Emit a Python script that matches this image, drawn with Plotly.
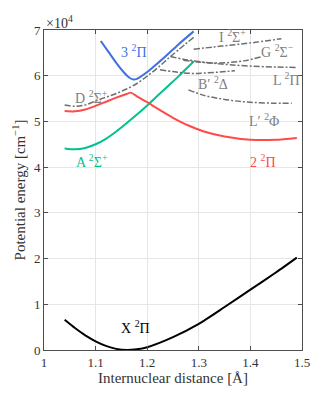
import plotly.graph_objects as go

# potential energy curves, energies in units of 1e4 cm^-1
x_X = [1.04, 1.06, 1.08, 1.10, 1.12, 1.14, 1.16, 1.18, 1.20, 1.25, 1.30, 1.35, 1.40, 1.45, 1.49]
y_X = [0.66, 0.48, 0.32, 0.19, 0.09, 0.025, 0.0, 0.015, 0.06, 0.28, 0.57, 0.94, 1.32, 1.70, 2.02]

x_A = [1.04, 1.06, 1.08, 1.10, 1.12, 1.14, 1.16, 1.18, 1.20, 1.22, 1.24, 1.26, 1.29]
y_A = [4.41, 4.39, 4.42, 4.50, 4.62, 4.78, 4.96, 5.15, 5.35, 5.56, 5.77, 5.98, 6.31]

x_2Pi = [1.04, 1.06, 1.08, 1.10, 1.12, 1.14, 1.16, 1.168, 1.18, 1.20, 1.22, 1.25, 1.28, 1.31, 1.35, 1.40, 1.45, 1.49]
y_2Pi = [5.23, 5.22, 5.26, 5.34, 5.43, 5.52, 5.60, 5.63, 5.55, 5.42, 5.28, 5.08, 4.91, 4.78, 4.67, 4.60, 4.60, 4.64]

x_3Pi = [1.11, 1.125, 1.14, 1.155, 1.165, 1.172, 1.18, 1.20, 1.22, 1.24, 1.26, 1.29]
y_3Pi = [6.76, 6.52, 6.28, 6.07, 5.96, 5.92, 5.93, 6.08, 6.27, 6.47, 6.68, 6.97]

x_D = [1.04, 1.06, 1.08, 1.10, 1.12, 1.14, 1.16, 1.18, 1.20, 1.22, 1.24, 1.26, 1.29]
y_D = [5.36, 5.33, 5.36, 5.45, 5.53, 5.61, 5.71, 5.83, 5.99, 6.17, 6.37, 6.56, 6.84]

x_I = [1.29, 1.33, 1.37, 1.41, 1.46]
y_I = [6.58, 6.63, 6.68, 6.73, 6.81]

x_G = [1.27, 1.30, 1.33, 1.36, 1.39, 1.42]
y_G = [6.34, 6.30, 6.28, 6.29, 6.33, 6.41]

x_L = [1.245, 1.27, 1.30, 1.33, 1.36, 1.40, 1.45, 1.49]
y_L = [6.42, 6.36, 6.31, 6.27, 6.24, 6.21, 6.19, 6.18]

x_B = [1.225, 1.25, 1.27, 1.29, 1.31, 1.34, 1.37]
y_B = [6.13, 6.09, 6.06, 6.05, 6.06, 6.08, 6.11]

x_Lp = [1.28, 1.31, 1.34, 1.37, 1.40, 1.44, 1.48]
y_Lp = [5.69, 5.57, 5.50, 5.45, 5.42, 5.40, 5.40]

x_ticks = [1, 1.1, 1.2, 1.3, 1.4, 1.5]
x_ticktext = ["1", "1.1", "1.2", "1.3", "1.4", "1.5"]
y_ticks = [0, 1, 2, 3, 4, 5, 6, 7]
y_ticktext = ["0", "1", "2", "3", "4", "5", "6", "7"]

BLUE = "#3f6fe0"
RED = "#ff4a4a"
GREEN = "#00c38c"
GRAY = "#6e6e6e"
LABEL_GRAY = "#808080"
FONT = "Liberation Serif, DejaVu Serif, serif"

fig = go.Figure()

solid = [(x_X, y_X, "black"), (x_A, y_A, GREEN), (x_2Pi, y_2Pi, RED), (x_3Pi, y_3Pi, BLUE)]
for xs, ys, c in solid:
    fig.add_trace(go.Scatter(x=xs, y=ys, mode="lines",
                             line=dict(color=c, width=2, shape="spline", smoothing=0.6),
                             showlegend=False, hoverinfo="skip"))

dashed = [(x_D, y_D), (x_I, y_I), (x_G, y_G), (x_L, y_L), (x_B, y_B), (x_Lp, y_Lp)]
for xs, ys in dashed:
    fig.add_trace(go.Scatter(x=xs, y=ys, mode="lines",
                             line=dict(color=GRAY, width=1.5, dash="6px,2px,2px,2px", shape="spline"),
                             showlegend=False, hoverinfo="skip"))

labels = [
    (1.178, 0.51, "X <sup>2</sup>Π", "black"),
    (1.093, 4.13, "A <sup>2</sup>Σ<sup>+</sup>", GREEN),
    (1.093, 5.54, "D <sup>2</sup>Σ<sup>+</sup>", LABEL_GRAY),
    (1.174, 6.54, "3 <sup>2</sup>Π", BLUE),
    (1.425, 4.13, "2 <sup>2</sup>Π", RED),
    (1.365, 6.87, "I <sup>2</sup>Σ<sup>+</sup>", LABEL_GRAY),
    (1.452, 6.54, "G <sup>2</sup>Σ<sup>−</sup>", LABEL_GRAY),
    (1.469, 5.92, "L <sup>2</sup>Π", LABEL_GRAY),
    (1.328, 5.84, "B′ <sup>2</sup>Δ", LABEL_GRAY),
    (1.427, 5.03, "L′ <sup>2</sup>Φ", LABEL_GRAY),
]
for lx, ly, txt, c in labels:
    fig.add_annotation(x=lx, y=ly, text=txt, showarrow=False,
                       font=dict(family=FONT, size=14, color=c))

fig.add_annotation(x=0, y=1, xref="paper", yref="paper", xanchor="left", yanchor="bottom",
                   text="×10<sup>4</sup>", showarrow=False, yshift=-3,
                   font=dict(family=FONT, size=14, color="#333333"))

axis_style = dict(showline=True, linecolor="#4d4d4d", linewidth=1, mirror="allticks",
                  ticks="inside", ticklen=4, tickcolor="#4d4d4d", showgrid=True,
                  gridcolor="#e6e6e6", gridwidth=1, zeroline=False, automargin=False,
                  tickfont=dict(family=FONT, size=13, color="#333333"))

fig.update_xaxes(range=[1, 1.5], tickvals=x_ticks, ticktext=x_ticktext,
                 title=dict(text="Internuclear distance [Å]", standoff=2,
                            font=dict(family=FONT, size=15, color="#333333")), **axis_style)
fig.update_yaxes(range=[0, 7], tickvals=y_ticks, ticktext=y_ticktext,
                 title=dict(text="Potential energy [cm<sup>−1</sup>]", standoff=4,
                            font=dict(family=FONT, size=15, color="#333333")), **axis_style)

# page body adds an 8px margin, so the figure is shrunk by that much
fig.update_layout(width=327, height=385, margin=dict(l=36, r=33, t=22, b=43),
                  plot_bgcolor="white", paper_bgcolor="white")

fig.write_html("out.html")
